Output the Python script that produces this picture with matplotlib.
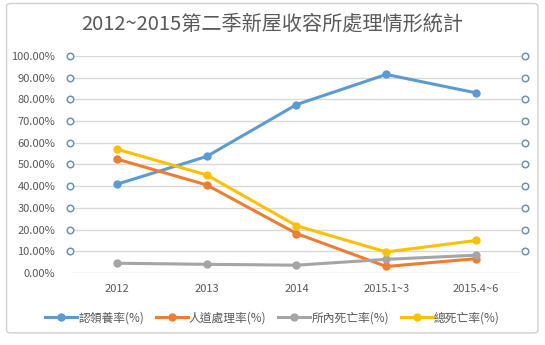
import numpy as np
import matplotlib.pyplot as plt
from matplotlib.patches import FancyBboxPatch

plt.rcParams['font.family'] = ['Noto Sans CJK TC', 'DejaVu Sans']

categories = ['2012', '2013', '2014', '2015.1~3', '2015.4~6']
adopt = [40.9, 53.7, 77.6, 91.5, 83.0]
euthanasia = [52.5, 40.6, 18.2, 3.0, 6.6]
shelter_death = [4.5, 4.0, 3.6, 6.3, 8.2]
total_death = [57.1, 45.2, 21.8, 9.7, 15.0]
series_names = ['認領養率(%)', '人道處理率(%)', '所內死亡率(%)', '總死亡率(%)']
series_colors = ['#5b9bd5', '#ed7d31', '#a5a5a5', '#ffc000']
y_ticks = [0, 10, 20, 30, 40, 50, 60, 70, 80, 90, 100]
side_marks = [10, 20, 30, 40, 50, 60, 70, 80, 90, 100]

fig = plt.figure(figsize=(5.45, 3.45), dpi=100)
fig.patches.append(FancyBboxPatch((0.012, 0.035), 0.975, 0.955,
                                  boxstyle='round,pad=0,rounding_size=0.008',
                                  transform=fig.transFigure, facecolor='white',
                                  edgecolor='#d0d0d0', linewidth=1.0,
                                  zorder=-5))

ax = fig.add_axes([0.132, 0.2087, 0.824, 0.629])
ax.set_facecolor('none')
x = np.arange(len(categories))

for vals, name, col in zip([adopt, euthanasia, shelter_death, total_death],
                           series_names, series_colors):
    ax.plot(x, vals, color=col, linewidth=2.2, marker='o', markersize=5,
            label=name, zorder=3)

# hollow circles at both ends of each gridline
for xs in (-0.52, 4.54):
    ax.scatter([xs] * len(side_marks), side_marks, s=22, facecolor='white',
               edgecolor='#6f93ad', linewidth=1.1, clip_on=False, zorder=4)

ax.set_xlim(-0.5, 4.5)
ax.set_ylim(0, 100)
ax.set_yticks(y_ticks)
ax.set_yticklabels(['%.2f%%' % v for v in y_ticks])
ax.set_xticks(x)
ax.set_xticklabels(categories)
ax.tick_params(axis='both', length=0, labelsize=8, labelcolor='#595959')
ax.tick_params(axis='y', pad=12)
ax.tick_params(axis='x', pad=8)
ax.yaxis.grid(True, color='#d9d9d9', linewidth=1.0)
ax.set_axisbelow(True)
for s in ax.spines.values():
    s.set_visible(False)

fig.text(0.5, 0.93, '2012~2015第二季新屋收容所處理情形統計', ha='center',
         va='center', fontsize=14.5, color='#595959')

fig.legend(loc='center', bbox_to_anchor=(0.5, 0.078), ncol=4, frameon=False,
           fontsize=8.5, handlelength=2.7, handletextpad=0.1, columnspacing=1.0,
           labelcolor='#595959')

plt.savefig('out.png', dpi=100)
